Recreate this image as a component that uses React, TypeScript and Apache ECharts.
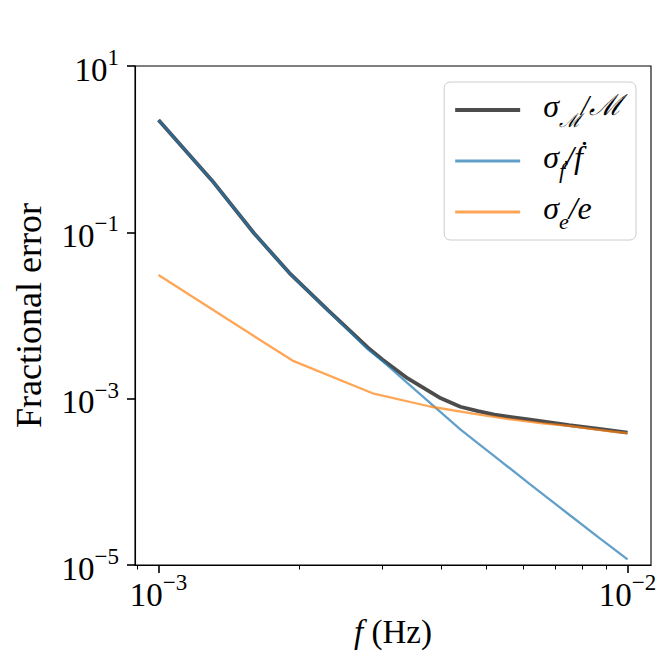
import React, { useEffect, useRef } from "react";
import * as echarts from "echarts";

// frequencies (Hz) sampled for the chirp-mass and fdot curves
const freqMain = [1.0e-3, 1.3e-3, 1.6e-3, 1.9e-3, 2.3e-3, 2.8e-3, 3.0e-3, 3.4e-3, 4.0e-3, 4.4e-3, 4.8e-3, 5.2e-3, 6.2e-3, 7.5e-3, 8.7e-3, 1.0e-2];
const chirpMassErr = [2.24, 0.421, 0.0968, 0.0326, 0.0115, 4.08e-3, 2.96e-3, 1.75e-3, 1.01e-3, 8.0e-4, 7.08e-4, 6.41e-4, 5.6e-4, 4.8e-4, 4.33e-4, 3.9e-4];
const fdotErr = [2.24, 0.421, 0.0968, 0.0324, 0.01139, 3.88e-3, 2.84e-3, 1.53e-3, 6.84e-4, 4.27e-4, 2.9e-4, 2.04e-4, 9.34e-5, 4.05e-5, 2.12e-5, 1.17e-5];
// frequencies (Hz) sampled for the eccentricity curve
const freqEcc = [1.0e-3, 1.93e-3, 2.86e-3, 3.79e-3, 4.72e-3, 5.65e-3, 6.58e-3, 7.5e-3, 8.43e-3, 9.36e-3, 1.0e-2];
const eccErr = [0.0307, 2.87e-3, 1.16e-3, 8.05e-4, 6.55e-4, 5.62e-4, 5.04e-4, 4.72e-4, 4.3e-4, 4.0e-4, 3.86e-4];

const xMajorTicks = [1e-3, 1e-2];
const xMinorTicks = [9e-4, 2e-3, 3e-3, 4e-3, 5e-3, 6e-3, 7e-3, 8e-3, 9e-3];
const yTicks = [1e-5, 1e-3, 1e-1, 1e1];

const legendLabels: Record<string, string> = {
  chirp: "{s|σ}{subm|ℳ}{m|/ℳ}",
  fdot: "{s|σ}{sub|ḟ}{s|/ḟ}",
  ecc: "{s|σ}{sub|e}{s|/e}",
};

const FONT = "Liberation Serif";

// legend handle: a 65px bar, with the icon box widened so the label sits further right
const thickHandle = "path://M0,5H65V9H0Z M83,0L83,0 M83,14L83,14 M0,0L0,0 M0,14L0,14";
const thinHandle = "path://M0,5.5H65V8.5H0Z M83,0L83,0 M83,14L83,14 M0,0L0,0 M0,14L0,14";

const powLabel = (v: number) => {
  const e = Math.round(Math.log10(v));
  const es = e < 0 ? "−" + Math.abs(e) : String(e);
  return "{b|10}{e|" + es + "}";
};

const tickRich = {
  b: { fontFamily: FONT, fontSize: 33, lineHeight: 40, verticalAlign: "bottom", color: "#000" },
  e: { fontFamily: FONT, fontSize: 23, lineHeight: 22, verticalAlign: "top", color: "#000" },
};

export default function App() {
  const ref = useRef<HTMLDivElement>(null);
  useEffect(() => {
    if (!ref.current) return;
    const chart = echarts.init(ref.current, undefined, { renderer: "svg" });
    const xMin = 0.000891;
    const xMax = 0.01122;
    chart.setOption({
      animation: false,
      backgroundColor: "#fff",
      grid: {
        left: 135,
        right: 13,
        top: 66,
        bottom: 99,
        show: true,
        borderColor: "#000",
        borderWidth: 1.1,
        backgroundColor: "transparent",
      },
      legend: {
        orient: "vertical",
        right: 28,
        top: 82,
        data: [
          { name: "chirp", icon: thickHandle, itemStyle: { color: "#000", opacity: 0.7, borderWidth: 0 } },
          { name: "fdot", icon: thinHandle, itemStyle: { color: "#1f77b4", opacity: 0.7, borderWidth: 0 } },
          { name: "ecc", icon: thinHandle, itemStyle: { color: "#ff7f0e", opacity: 0.7, borderWidth: 0 } },
        ],
        symbolKeepAspect: false,
        backgroundColor: "rgba(255,255,255,0.8)",
        borderColor: "#cccccc",
        borderWidth: 1,
        borderRadius: 6,
        padding: [8, 14, 8, 11],
        itemWidth: 83,
        itemHeight: 14,
        itemGap: 11,
        formatter: (name: string) => legendLabels[name],
        textStyle: {
          rich: {
            s: { fontFamily: FONT, fontStyle: "italic", fontSize: 32, lineHeight: 40, verticalAlign: "top", color: "#000" },
            m: { fontFamily: FONT, fontStyle: "italic", fontSize: 29, lineHeight: 40, verticalAlign: "top", color: "#000" },
            sub: { fontFamily: FONT, fontStyle: "italic", fontSize: 22, lineHeight: 14, verticalAlign: "bottom", color: "#000" },
            subm: { fontFamily: FONT, fontStyle: "italic", fontSize: 19, lineHeight: 14, verticalAlign: "bottom", color: "#000" },
          },
        },
      },
      xAxis: [
        {
          type: "log",
          logBase: 10,
          min: xMin,
          max: xMax,
          position: "bottom",
          name: "{i|f}{r|\u00a0(Hz)}",
          nameLocation: "middle",
          nameGap: 50,
          nameTextStyle: {
            rich: {
              i: { fontFamily: FONT, fontStyle: "italic", fontSize: 33, color: "#000" },
              r: { fontFamily: FONT, fontSize: 33, color: "#000" },
            },
          },
          axisLine: { show: true, onZero: false, lineStyle: { color: "#000", width: 1.1 } },
          axisTick: { show: true, customValues: xMajorTicks, length: 8, lineStyle: { color: "#000", width: 1.6 } },
          axisLabel: { show: true, customValues: xMajorTicks, formatter: powLabel, rich: tickRich, margin: 6 },
          splitLine: { show: false },
          minorTick: { show: false },
        },
        {
          type: "log",
          logBase: 10,
          min: xMin,
          max: xMax,
          position: "bottom",
          offset: 0,
          axisLine: { show: false },
          axisTick: { show: true, customValues: xMinorTicks, length: 4.5, lineStyle: { color: "#000", width: 1 } },
          axisLabel: { show: false },
          splitLine: { show: false },
        },
      ],
      yAxis: {
        type: "log",
        logBase: 10,
        min: 1e-5,
        max: 10,
        name: "Fractional error",
        nameLocation: "middle",
        nameGap: 88,
        nameTextStyle: { fontFamily: FONT, fontSize: 36, color: "#000" },
        axisLine: { show: true, onZero: false, lineStyle: { color: "#000", width: 1.1 } },
        axisTick: { show: true, customValues: yTicks, length: 8, lineStyle: { color: "#000", width: 1.6 } },
        axisLabel: { show: true, customValues: yTicks, formatter: powLabel, rich: tickRich, margin: 16 },
        splitLine: { show: false },
      },
      series: [
        {
          name: "chirp",
          type: "line",
          xAxisIndex: 0,
          symbol: "none",
          data: freqMain.map((f, i) => [f, chirpMassErr[i]]),
          lineStyle: { color: "#000", width: 3.8, opacity: 0.7 },
          itemStyle: { color: "#000", opacity: 0.7 },
        },
        {
          name: "fdot",
          type: "line",
          xAxisIndex: 0,
          symbol: "none",
          data: freqMain.map((f, i) => [f, fdotErr[i]]),
          lineStyle: { color: "#1f77b4", width: 2.3, opacity: 0.7 },
          itemStyle: { color: "#1f77b4", opacity: 0.7 },
        },
        {
          name: "ecc",
          type: "line",
          xAxisIndex: 0,
          symbol: "none",
          data: freqEcc.map((f, i) => [f, eccErr[i]]),
          lineStyle: { color: "#ff7f0e", width: 2.3, opacity: 0.7 },
          itemStyle: { color: "#ff7f0e", opacity: 0.7 },
        },
      ],
    });
    return () => chart.dispose();
  }, []);
  return <div ref={ref} style={{ position: "fixed", left: 0, top: 0, width: 664, height: 664 }} />;
}
